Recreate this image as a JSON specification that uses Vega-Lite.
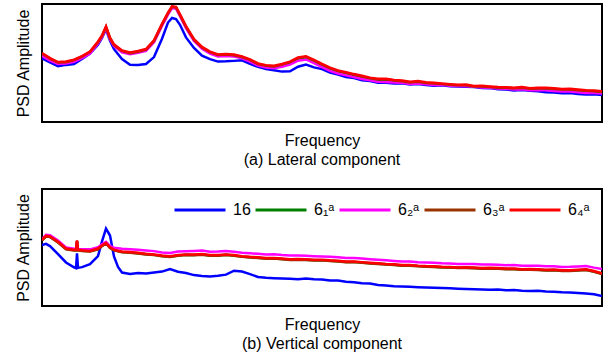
{
  "$schema": "https://vega.github.io/schema/vega-lite/v6.json",
  "background": "white",
  "padding": {"left": 14, "top": 3, "right": 5, "bottom": 0},
  "config": {
    "font": "Liberation Sans",
    "view": {"stroke": "black", "strokeWidth": 2},
    "axis": {"grid": false, "labels": false, "ticks": false, "domain": false, "titleFont": "Liberation Sans", "titleFontSize": 16, "titleFontWeight": "normal", "titleColor": "black"},
    "title": {"font": "Liberation Sans", "fontSize": 16, "fontWeight": "normal", "color": "black"},
    "concat": {"spacing": 13}
  },
  "resolve": {"legend": {"color": "independent"}},
  "vconcat": [
    {
      "title": {"text": "(a) Lateral component", "orient": "bottom", "offset": 4},
      "width": 560,
      "height": 118,
      "data": {"values": [
        {"f": 0, "16": 54.0, "6₁ᵃ": 57.8, "6₂ᵃ": 56.0, "6₃ᵃ": 58.1, "6₄ᵃ": 58.5},
        {"f": 8, "16": 50.6, "6₁ᵃ": 53.2, "6₂ᵃ": 52.0, "6₃ᵃ": 53.7, "6₄ᵃ": 54.2},
        {"f": 16, "16": 47.3, "6₁ᵃ": 50.0, "6₂ᵃ": 49.1, "6₃ᵃ": 50.4, "6₄ᵃ": 50.8},
        {"f": 24, "16": 48.4, "6₁ᵃ": 50.2, "6₂ᵃ": 49.6, "6₃ᵃ": 50.7, "6₄ᵃ": 51.3},
        {"f": 32, "16": 49.2, "6₁ᵃ": 52.1, "6₂ᵃ": 51.0, "6₃ᵃ": 52.4, "6₄ᵃ": 52.8},
        {"f": 40, "16": 53.4, "6₁ᵃ": 55.0, "6₂ᵃ": 54.2, "6₃ᵃ": 55.3, "6₄ᵃ": 55.9},
        {"f": 48, "16": 58.1, "6₁ᵃ": 58.9, "6₂ᵃ": 58.0, "6₃ᵃ": 59.4, "6₄ᵃ": 59.7},
        {"f": 56, "16": 65.4, "6₁ᵃ": 67.3, "6₂ᵃ": 66.5, "6₃ᵃ": 67.6, "6₄ᵃ": 68.2},
        {"f": 60, "16": 71.2, "6₁ᵃ": 72.6, "6₂ᵃ": 71.8, "6₃ᵃ": 72.9, "6₄ᵃ": 73.4},
        {"f": 64, "16": 78.6, "6₁ᵃ": 80.2, "6₂ᵃ": 79.4, "6₃ᵃ": 80.6, "6₄ᵃ": 81.0},
        {"f": 68, "16": 68.9, "6₁ᵃ": 70.6, "6₂ᵃ": 70.0, "6₃ᵃ": 71.0, "6₄ᵃ": 71.4},
        {"f": 72, "16": 61.7, "6₁ᵃ": 64.9, "6₂ᵃ": 64.2, "6₃ᵃ": 65.2, "6₄ᵃ": 65.8},
        {"f": 80, "16": 53.4, "6₁ᵃ": 59.8, "6₂ᵃ": 59.1, "6₃ᵃ": 60.2, "6₄ᵃ": 60.6},
        {"f": 88, "16": 48.6, "6₁ᵃ": 58.0, "6₂ᵃ": 57.4, "6₃ᵃ": 58.2, "6₄ᵃ": 58.9},
        {"f": 96, "16": 48.3, "6₁ᵃ": 59.2, "6₂ᵃ": 58.6, "6₃ᵃ": 59.6, "6₄ᵃ": 60.1},
        {"f": 104, "16": 49.2, "6₁ᵃ": 61.0, "6₂ᵃ": 60.2, "6₃ᵃ": 61.3, "6₄ᵃ": 61.8},
        {"f": 112, "16": 55.0, "6₁ᵃ": 68.4, "6₂ᵃ": 67.5, "6₃ᵃ": 68.7, "6₄ᵃ": 69.3},
        {"f": 120, "16": 70.6, "6₁ᵃ": 82.2, "6₂ᵃ": 81.4, "6₃ᵃ": 82.6, "6₄ᵃ": 83.1},
        {"f": 126, "16": 84.3, "6₁ᵃ": 91.8, "6₂ᵃ": 91.0, "6₃ᵃ": 92.2, "6₄ᵃ": 92.6},
        {"f": 130, "16": 88.2, "6₁ᵃ": 97.2, "6₂ᵃ": 96.5, "6₃ᵃ": 97.6, "6₄ᵃ": 98.0},
        {"f": 134, "16": 87.3, "6₁ᵃ": 96.8, "6₂ᵃ": 96.0, "6₃ᵃ": 97.1, "6₄ᵃ": 97.6},
        {"f": 138, "16": 82.4, "6₁ᵃ": 90.3, "6₂ᵃ": 89.6, "6₃ᵃ": 90.7, "6₄ᵃ": 91.2},
        {"f": 144, "16": 71.7, "6₁ᵃ": 80.4, "6₂ᵃ": 79.6, "6₃ᵃ": 80.7, "6₄ᵃ": 81.3},
        {"f": 152, "16": 62.8, "6₁ᵃ": 69.3, "6₂ᵃ": 68.6, "6₃ᵃ": 69.7, "6₄ᵃ": 70.2},
        {"f": 160, "16": 56.2, "6₁ᵃ": 62.9, "6₂ᵃ": 62.0, "6₃ᵃ": 63.1, "6₄ᵃ": 63.6},
        {"f": 168, "16": 53.3, "6₁ᵃ": 58.8, "6₂ᵃ": 58.0, "6₃ᵃ": 59.2, "6₄ᵃ": 59.7},
        {"f": 176, "16": 51.2, "6₁ᵃ": 56.4, "6₂ᵃ": 55.6, "6₃ᵃ": 56.8, "6₄ᵃ": 57.3},
        {"f": 184, "16": 51.4, "6₁ᵃ": 56.9, "6₂ᵃ": 56.0, "6₃ᵃ": 57.1, "6₄ᵃ": 57.6},
        {"f": 192, "16": 51.8, "6₁ᵃ": 56.2, "6₂ᵃ": 55.4, "6₃ᵃ": 56.6, "6₄ᵃ": 57.2},
        {"f": 200, "16": 52.3, "6₁ᵃ": 54.9, "6₂ᵃ": 54.0, "6₃ᵃ": 55.1, "6₄ᵃ": 55.6},
        {"f": 208, "16": 49.2, "6₁ᵃ": 52.3, "6₂ᵃ": 51.2, "6₃ᵃ": 52.6, "6₄ᵃ": 53.1},
        {"f": 216, "16": 46.7, "6₁ᵃ": 48.8, "6₂ᵃ": 47.8, "6₃ᵃ": 49.1, "6₄ᵃ": 49.6},
        {"f": 224, "16": 44.8, "6₁ᵃ": 47.4, "6₂ᵃ": 46.2, "6₃ᵃ": 47.6, "6₄ᵃ": 48.2},
        {"f": 232, "16": 43.9, "6₁ᵃ": 46.8, "6₂ᵃ": 45.5, "6₃ᵃ": 47.1, "6₄ᵃ": 47.6},
        {"f": 240, "16": 42.7, "6₁ᵃ": 48.3, "6₂ᵃ": 46.8, "6₃ᵃ": 48.6, "6₄ᵃ": 49.1},
        {"f": 248, "16": 42.9, "6₁ᵃ": 50.4, "6₂ᵃ": 48.6, "6₃ᵃ": 50.7, "6₄ᵃ": 51.2},
        {"f": 256, "16": 46.8, "6₁ᵃ": 53.8, "6₂ᵃ": 52.0, "6₃ᵃ": 54.1, "6₄ᵃ": 54.6},
        {"f": 264, "16": 48.7, "6₁ᵃ": 54.9, "6₂ᵃ": 53.0, "6₃ᵃ": 55.2, "6₄ᵃ": 55.7},
        {"f": 272, "16": 46.3, "6₁ᵃ": 51.9, "6₂ᵃ": 49.9, "6₃ᵃ": 52.1, "6₄ᵃ": 52.6},
        {"f": 280, "16": 44.8, "6₁ᵃ": 48.4, "6₂ᵃ": 46.6, "6₃ᵃ": 48.7, "6₄ᵃ": 49.2},
        {"f": 288, "16": 41.8, "6₁ᵃ": 45.3, "6₂ᵃ": 43.3, "6₃ᵃ": 45.6, "6₄ᵃ": 46.1},
        {"f": 296, "16": 40.3, "6₁ᵃ": 42.9, "6₂ᵃ": 41.1, "6₃ᵃ": 43.1, "6₄ᵃ": 43.7},
        {"f": 304, "16": 38.2, "6₁ᵃ": 41.4, "6₂ᵃ": 39.5, "6₃ᵃ": 41.7, "6₄ᵃ": 42.2},
        {"f": 312, "16": 37.3, "6₁ᵃ": 39.8, "6₂ᵃ": 38.2, "6₃ᵃ": 40.1, "6₄ᵃ": 40.6},
        {"f": 320, "16": 35.4, "6₁ᵃ": 38.4, "6₂ᵃ": 36.4, "6₃ᵃ": 38.6, "6₄ᵃ": 39.2},
        {"f": 328, "16": 34.7, "6₁ᵃ": 36.9, "6₂ᵃ": 35.3, "6₃ᵃ": 37.1, "6₄ᵃ": 37.6},
        {"f": 336, "16": 33.3, "6₁ᵃ": 35.8, "6₂ᵃ": 34.2, "6₃ᵃ": 36.1, "6₄ᵃ": 36.6},
        {"f": 344, "16": 33.2, "6₁ᵃ": 35.9, "6₂ᵃ": 34.0, "6₃ᵃ": 36.2, "6₄ᵃ": 36.7},
        {"f": 352, "16": 32.7, "6₁ᵃ": 34.8, "6₂ᵃ": 33.5, "6₃ᵃ": 35.1, "6₄ᵃ": 35.6},
        {"f": 360, "16": 32.8, "6₁ᵃ": 34.4, "6₂ᵃ": 33.2, "6₃ᵃ": 34.6, "6₄ᵃ": 35.1},
        {"f": 368, "16": 31.7, "6₁ᵃ": 33.3, "6₂ᵃ": 32.3, "6₃ᵃ": 33.5, "6₄ᵃ": 34.1},
        {"f": 376, "16": 32.2, "6₁ᵃ": 33.9, "6₂ᵃ": 32.6, "6₃ᵃ": 34.1, "6₄ᵃ": 34.7},
        {"f": 384, "16": 31.3, "6₁ᵃ": 32.8, "6₂ᵃ": 31.9, "6₃ᵃ": 33.1, "6₄ᵃ": 33.6},
        {"f": 392, "16": 30.8, "6₁ᵃ": 32.4, "6₂ᵃ": 31.4, "6₃ᵃ": 32.6, "6₄ᵃ": 33.2},
        {"f": 400, "16": 31.2, "6₁ᵃ": 31.8, "6₂ᵃ": 31.6, "6₃ᵃ": 32.1, "6₄ᵃ": 32.6},
        {"f": 408, "16": 30.3, "6₁ᵃ": 31.4, "6₂ᵃ": 30.8, "6₃ᵃ": 31.6, "6₄ᵃ": 32.1},
        {"f": 416, "16": 30.1, "6₁ᵃ": 30.8, "6₂ᵃ": 30.5, "6₃ᵃ": 31.1, "6₄ᵃ": 31.6},
        {"f": 424, "16": 29.8, "6₁ᵃ": 30.9, "6₂ᵃ": 30.2, "6₃ᵃ": 31.1, "6₄ᵃ": 31.7},
        {"f": 432, "16": 29.6, "6₁ᵃ": 29.8, "6₂ᵃ": 29.9, "6₃ᵃ": 30.1, "6₄ᵃ": 30.6},
        {"f": 440, "16": 28.8, "6₁ᵃ": 29.9, "6₂ᵃ": 29.3, "6₃ᵃ": 30.1, "6₄ᵃ": 30.7},
        {"f": 448, "16": 28.7, "6₁ᵃ": 29.3, "6₂ᵃ": 29.0, "6₃ᵃ": 29.6, "6₄ᵃ": 30.1},
        {"f": 456, "16": 27.8, "6₁ᵃ": 28.9, "6₂ᵃ": 28.4, "6₃ᵃ": 29.1, "6₄ᵃ": 29.6},
        {"f": 464, "16": 27.6, "6₁ᵃ": 28.8, "6₂ᵃ": 28.1, "6₃ᵃ": 29.0, "6₄ᵃ": 29.5},
        {"f": 472, "16": 26.8, "6₁ᵃ": 28.3, "6₂ᵃ": 27.5, "6₃ᵃ": 28.5, "6₄ᵃ": 29.0},
        {"f": 480, "16": 27.1, "6₁ᵃ": 28.8, "6₂ᵃ": 27.8, "6₃ᵃ": 29.0, "6₄ᵃ": 29.6},
        {"f": 488, "16": 26.4, "6₁ᵃ": 27.8, "6₂ᵃ": 27.0, "6₃ᵃ": 28.1, "6₄ᵃ": 28.6},
        {"f": 496, "16": 26.1, "6₁ᵃ": 28.2, "6₂ᵃ": 27.2, "6₃ᵃ": 28.4, "6₄ᵃ": 29.0},
        {"f": 504, "16": 25.3, "6₁ᵃ": 28.3, "6₂ᵃ": 26.8, "6₃ᵃ": 28.5, "6₄ᵃ": 29.1},
        {"f": 512, "16": 25.1, "6₁ᵃ": 27.7, "6₂ᵃ": 26.3, "6₃ᵃ": 28.0, "6₄ᵃ": 28.5},
        {"f": 520, "16": 24.4, "6₁ᵃ": 27.3, "6₂ᵃ": 25.9, "6₃ᵃ": 27.5, "6₄ᵃ": 28.0},
        {"f": 528, "16": 24.6, "6₁ᵃ": 27.2, "6₂ᵃ": 25.8, "6₃ᵃ": 27.5, "6₄ᵃ": 28.1},
        {"f": 536, "16": 23.8, "6₁ᵃ": 26.8, "6₂ᵃ": 25.2, "6₃ᵃ": 27.0, "6₄ᵃ": 27.6},
        {"f": 544, "16": 23.4, "6₁ᵃ": 26.2, "6₂ᵃ": 24.6, "6₃ᵃ": 26.5, "6₄ᵃ": 27.0},
        {"f": 552, "16": 23.6, "6₁ᵃ": 25.8, "6₂ᵃ": 24.5, "6₃ᵃ": 26.0, "6₄ᵃ": 26.6},
        {"f": 560, "16": 22.9, "6₁ᵃ": 25.3, "6₂ᵃ": 24.1, "6₃ᵃ": 25.5, "6₄ᵃ": 26.0}
      ]},
      "transform": [{"fold": ["16", "6₁ᵃ", "6₂ᵃ", "6₃ᵃ", "6₄ᵃ"], "as": ["series", "v"]}],
      "mark": {"type": "line", "strokeWidth": 2.5, "clip": true},
      "encoding": {
        "x": {"field": "f", "type": "quantitative", "scale": {"domain": [0, 560], "nice": false, "zero": false}, "axis": {"title": "Frequency", "titlePadding": 10}},
        "y": {"field": "v", "type": "quantitative", "scale": {"domain": [0, 100], "nice": false}, "axis": {"title": "PSD Amplitude", "titlePadding": 11}},
        "color": {"field": "series", "type": "nominal", "scale": {"domain": ["16", "6₁ᵃ", "6₂ᵃ", "6₃ᵃ", "6₄ᵃ"], "range": ["#0000ff", "#008000", "#ff00ff", "#993300", "#ff0000"]}, "legend": null}
      }
    },
    {
      "title": {"text": "(b) Vertical component", "orient": "bottom", "offset": 4},
      "width": 560,
      "height": 117,
      "data": {"values": [
        {"f": 0, "16": 52.0, "6₁ᵃ": 56.2, "6₂ᵃ": 57.2, "6₃ᵃ": 56.0, "6₄ᵃ": 56.5},
        {"f": 4, "16": 53.1, "6₁ᵃ": 59.6, "6₂ᵃ": 60.8, "6₃ᵃ": 59.4, "6₄ᵃ": 60.0},
        {"f": 8, "16": 51.2, "6₁ᵃ": 59.1, "6₂ᵃ": 60.4, "6₃ᵃ": 58.9, "6₄ᵃ": 59.5},
        {"f": 16, "16": 44.4, "6₁ᵃ": 54.6, "6₂ᵃ": 55.9, "6₃ᵃ": 54.3, "6₄ᵃ": 55.0},
        {"f": 24, "16": 37.2, "6₁ᵃ": 48.8, "6₂ᵃ": 50.1, "6₃ᵃ": 48.5, "6₄ᵃ": 49.1},
        {"f": 32, "16": 33.1, "6₁ᵃ": 47.6, "6₂ᵃ": 49.0, "6₃ᵃ": 47.4, "6₄ᵃ": 48.0},
        {"f": 34, "16": 32.4, "6₁ᵃ": 47.8, "6₂ᵃ": 48.9, "6₃ᵃ": 47.5, "6₄ᵃ": 48.1},
        {"f": 35, "16": 45.0, "6₁ᵃ": 55.4, "6₂ᵃ": 54.8, "6₃ᵃ": 55.6, "6₄ᵃ": 56.0},
        {"f": 36, "16": 32.6, "6₁ᵃ": 47.7, "6₂ᵃ": 48.8, "6₃ᵃ": 47.6, "6₄ᵃ": 48.0},
        {"f": 40, "16": 33.2, "6₁ᵃ": 47.2, "6₂ᵃ": 48.6, "6₃ᵃ": 47.0, "6₄ᵃ": 47.6},
        {"f": 48, "16": 35.7, "6₁ᵃ": 46.8, "6₂ᵃ": 48.4, "6₃ᵃ": 46.6, "6₄ᵃ": 47.1},
        {"f": 56, "16": 42.6, "6₁ᵃ": 48.7, "6₂ᵃ": 50.3, "6₃ᵃ": 48.5, "6₄ᵃ": 49.1},
        {"f": 60, "16": 55.2, "6₁ᵃ": 51.4, "6₂ᵃ": 52.8, "6₃ᵃ": 51.2, "6₄ᵃ": 51.8},
        {"f": 64, "16": 66.1, "6₁ᵃ": 53.6, "6₂ᵃ": 54.9, "6₃ᵃ": 53.4, "6₄ᵃ": 54.0},
        {"f": 68, "16": 60.2, "6₁ᵃ": 49.7, "6₂ᵃ": 51.4, "6₃ᵃ": 49.5, "6₄ᵃ": 50.1},
        {"f": 72, "16": 42.3, "6₁ᵃ": 47.8, "6₂ᵃ": 49.9, "6₃ᵃ": 47.5, "6₄ᵃ": 48.2},
        {"f": 76, "16": 33.4, "6₁ᵃ": 47.0, "6₂ᵃ": 49.4, "6₃ᵃ": 46.8, "6₄ᵃ": 47.3},
        {"f": 80, "16": 28.6, "6₁ᵃ": 46.2, "6₂ᵃ": 48.9, "6₃ᵃ": 46.0, "6₄ᵃ": 46.6},
        {"f": 88, "16": 27.4, "6₁ᵃ": 45.8, "6₂ᵃ": 48.6, "6₃ᵃ": 45.6, "6₄ᵃ": 46.1},
        {"f": 96, "16": 28.3, "6₁ᵃ": 45.1, "6₂ᵃ": 48.0, "6₃ᵃ": 44.9, "6₄ᵃ": 45.5},
        {"f": 104, "16": 27.8, "6₁ᵃ": 44.2, "6₂ᵃ": 47.4, "6₃ᵃ": 44.0, "6₄ᵃ": 44.6},
        {"f": 112, "16": 28.6, "6₁ᵃ": 43.7, "6₂ᵃ": 46.9, "6₃ᵃ": 43.5, "6₄ᵃ": 44.1},
        {"f": 120, "16": 29.4, "6₁ᵃ": 42.8, "6₂ᵃ": 45.8, "6₃ᵃ": 42.5, "6₄ᵃ": 43.1},
        {"f": 128, "16": 31.6, "6₁ᵃ": 42.1, "6₂ᵃ": 45.4, "6₃ᵃ": 41.9, "6₄ᵃ": 42.5},
        {"f": 136, "16": 29.3, "6₁ᵃ": 43.2, "6₂ᵃ": 46.5, "6₃ᵃ": 43.0, "6₄ᵃ": 43.6},
        {"f": 144, "16": 28.2, "6₁ᵃ": 43.7, "6₂ᵃ": 46.8, "6₃ᵃ": 43.5, "6₄ᵃ": 44.1},
        {"f": 152, "16": 26.4, "6₁ᵃ": 43.6, "6₂ᵃ": 47.1, "6₃ᵃ": 43.4, "6₄ᵃ": 44.0},
        {"f": 160, "16": 25.7, "6₁ᵃ": 44.1, "6₂ᵃ": 47.4, "6₃ᵃ": 43.9, "6₄ᵃ": 44.5},
        {"f": 168, "16": 25.3, "6₁ᵃ": 43.2, "6₂ᵃ": 46.4, "6₃ᵃ": 43.0, "6₄ᵃ": 43.6},
        {"f": 176, "16": 25.8, "6₁ᵃ": 43.1, "6₂ᵃ": 46.6, "6₃ᵃ": 42.9, "6₄ᵃ": 43.5},
        {"f": 184, "16": 26.8, "6₁ᵃ": 43.7, "6₂ᵃ": 47.0, "6₃ᵃ": 43.5, "6₄ᵃ": 44.1},
        {"f": 192, "16": 30.2, "6₁ᵃ": 43.1, "6₂ᵃ": 46.3, "6₃ᵃ": 42.9, "6₄ᵃ": 43.5},
        {"f": 200, "16": 29.4, "6₁ᵃ": 42.2, "6₂ᵃ": 45.6, "6₃ᵃ": 42.0, "6₄ᵃ": 42.6},
        {"f": 208, "16": 27.2, "6₁ᵃ": 41.6, "6₂ᵃ": 45.1, "6₃ᵃ": 41.4, "6₄ᵃ": 42.0},
        {"f": 216, "16": 24.8, "6₁ᵃ": 41.2, "6₂ᵃ": 44.6, "6₃ᵃ": 41.0, "6₄ᵃ": 41.6},
        {"f": 224, "16": 24.1, "6₁ᵃ": 40.6, "6₂ᵃ": 44.0, "6₃ᵃ": 40.4, "6₄ᵃ": 41.0},
        {"f": 232, "16": 23.8, "6₁ᵃ": 40.7, "6₂ᵃ": 44.2, "6₃ᵃ": 40.5, "6₄ᵃ": 41.1},
        {"f": 240, "16": 23.6, "6₁ᵃ": 40.1, "6₂ᵃ": 43.5, "6₃ᵃ": 39.9, "6₄ᵃ": 40.5},
        {"f": 248, "16": 23.3, "6₁ᵃ": 39.6, "6₂ᵃ": 43.1, "6₃ᵃ": 39.4, "6₄ᵃ": 40.0},
        {"f": 256, "16": 22.8, "6₁ᵃ": 39.7, "6₂ᵃ": 43.2, "6₃ᵃ": 39.5, "6₄ᵃ": 40.1},
        {"f": 264, "16": 23.6, "6₁ᵃ": 39.5, "6₂ᵃ": 42.9, "6₃ᵃ": 39.3, "6₄ᵃ": 39.9},
        {"f": 272, "16": 22.9, "6₁ᵃ": 39.1, "6₂ᵃ": 42.6, "6₃ᵃ": 38.9, "6₄ᵃ": 39.5},
        {"f": 280, "16": 22.6, "6₁ᵃ": 39.2, "6₂ᵃ": 42.4, "6₃ᵃ": 39.0, "6₄ᵃ": 39.6},
        {"f": 288, "16": 21.8, "6₁ᵃ": 38.6, "6₂ᵃ": 42.0, "6₃ᵃ": 38.4, "6₄ᵃ": 39.0},
        {"f": 296, "16": 21.7, "6₁ᵃ": 38.2, "6₂ᵃ": 41.6, "6₃ᵃ": 38.0, "6₄ᵃ": 38.6},
        {"f": 304, "16": 20.8, "6₁ᵃ": 37.6, "6₂ᵃ": 41.0, "6₃ᵃ": 37.4, "6₄ᵃ": 38.0},
        {"f": 312, "16": 20.2, "6₁ᵃ": 37.7, "6₂ᵃ": 41.1, "6₃ᵃ": 37.5, "6₄ᵃ": 38.1},
        {"f": 320, "16": 19.4, "6₁ᵃ": 37.1, "6₂ᵃ": 40.5, "6₃ᵃ": 36.9, "6₄ᵃ": 37.5},
        {"f": 328, "16": 19.2, "6₁ᵃ": 36.6, "6₂ᵃ": 40.0, "6₃ᵃ": 36.4, "6₄ᵃ": 37.0},
        {"f": 336, "16": 17.9, "6₁ᵃ": 36.2, "6₂ᵃ": 39.6, "6₃ᵃ": 36.0, "6₄ᵃ": 36.6},
        {"f": 344, "16": 17.6, "6₁ᵃ": 35.6, "6₂ᵃ": 39.1, "6₃ᵃ": 35.4, "6₄ᵃ": 36.0},
        {"f": 352, "16": 16.8, "6₁ᵃ": 35.2, "6₂ᵃ": 38.5, "6₃ᵃ": 35.0, "6₄ᵃ": 35.6},
        {"f": 360, "16": 16.6, "6₁ᵃ": 34.6, "6₂ᵃ": 38.0, "6₃ᵃ": 34.4, "6₄ᵃ": 35.0},
        {"f": 368, "16": 16.4, "6₁ᵃ": 34.7, "6₂ᵃ": 38.1, "6₃ᵃ": 34.5, "6₄ᵃ": 35.1},
        {"f": 376, "16": 16.1, "6₁ᵃ": 34.1, "6₂ᵃ": 37.4, "6₃ᵃ": 33.9, "6₄ᵃ": 34.5},
        {"f": 384, "16": 15.8, "6₁ᵃ": 33.7, "6₂ᵃ": 37.1, "6₃ᵃ": 33.5, "6₄ᵃ": 34.1},
        {"f": 392, "16": 15.6, "6₁ᵃ": 33.6, "6₂ᵃ": 36.9, "6₃ᵃ": 33.4, "6₄ᵃ": 34.0},
        {"f": 400, "16": 15.4, "6₁ᵃ": 33.2, "6₂ᵃ": 36.5, "6₃ᵃ": 33.0, "6₄ᵃ": 33.6},
        {"f": 408, "16": 15.1, "6₁ᵃ": 33.0, "6₂ᵃ": 36.4, "6₃ᵃ": 32.8, "6₄ᵃ": 33.4},
        {"f": 416, "16": 14.8, "6₁ᵃ": 32.6, "6₂ᵃ": 36.0, "6₃ᵃ": 32.4, "6₄ᵃ": 33.0},
        {"f": 424, "16": 14.6, "6₁ᵃ": 32.7, "6₂ᵃ": 36.0, "6₃ᵃ": 32.5, "6₄ᵃ": 33.1},
        {"f": 432, "16": 14.4, "6₁ᵃ": 32.5, "6₂ᵃ": 35.8, "6₃ᵃ": 32.3, "6₄ᵃ": 32.9},
        {"f": 440, "16": 14.2, "6₁ᵃ": 32.1, "6₂ᵃ": 35.4, "6₃ᵃ": 31.9, "6₄ᵃ": 32.5},
        {"f": 448, "16": 13.9, "6₁ᵃ": 32.2, "6₂ᵃ": 35.5, "6₃ᵃ": 32.0, "6₄ᵃ": 32.6},
        {"f": 456, "16": 14.1, "6₁ᵃ": 32.0, "6₂ᵃ": 35.2, "6₃ᵃ": 31.8, "6₄ᵃ": 32.4},
        {"f": 464, "16": 13.5, "6₁ᵃ": 31.6, "6₂ᵃ": 34.9, "6₃ᵃ": 31.4, "6₄ᵃ": 32.0},
        {"f": 472, "16": 13.6, "6₁ᵃ": 31.7, "6₂ᵃ": 35.0, "6₃ᵃ": 31.5, "6₄ᵃ": 32.1},
        {"f": 480, "16": 13.1, "6₁ᵃ": 31.1, "6₂ᵃ": 34.5, "6₃ᵃ": 30.9, "6₄ᵃ": 31.5},
        {"f": 488, "16": 12.9, "6₁ᵃ": 31.2, "6₂ᵃ": 34.4, "6₃ᵃ": 31.0, "6₄ᵃ": 31.6},
        {"f": 496, "16": 13.1, "6₁ᵃ": 31.0, "6₂ᵃ": 34.3, "6₃ᵃ": 30.8, "6₄ᵃ": 31.4},
        {"f": 504, "16": 12.4, "6₁ᵃ": 30.6, "6₂ᵃ": 33.9, "6₃ᵃ": 30.4, "6₄ᵃ": 31.0},
        {"f": 512, "16": 12.2, "6₁ᵃ": 30.7, "6₂ᵃ": 33.9, "6₃ᵃ": 30.5, "6₄ᵃ": 31.1},
        {"f": 520, "16": 11.8, "6₁ᵃ": 30.1, "6₂ᵃ": 33.4, "6₃ᵃ": 29.9, "6₄ᵃ": 30.5},
        {"f": 528, "16": 11.6, "6₁ᵃ": 30.2, "6₂ᵃ": 33.5, "6₃ᵃ": 30.0, "6₄ᵃ": 30.6},
        {"f": 536, "16": 11.1, "6₁ᵃ": 30.6, "6₂ᵃ": 33.8, "6₃ᵃ": 30.4, "6₄ᵃ": 31.0},
        {"f": 544, "16": 10.6, "6₁ᵃ": 31.0, "6₂ᵃ": 34.2, "6₃ᵃ": 30.8, "6₄ᵃ": 31.4},
        {"f": 552, "16": 10.1, "6₁ᵃ": 29.5, "6₂ᵃ": 32.8, "6₃ᵃ": 29.3, "6₄ᵃ": 29.9},
        {"f": 560, "16": 8.6, "6₁ᵃ": 27.6, "6₂ᵃ": 31.6, "6₃ᵃ": 27.4, "6₄ᵃ": 28.0}
      ]},
      "transform": [{"fold": ["16", "6₁ᵃ", "6₂ᵃ", "6₃ᵃ", "6₄ᵃ"], "as": ["series", "v"]}],
      "mark": {"type": "line", "strokeWidth": 2.5, "clip": true},
      "encoding": {
        "x": {"field": "f", "type": "quantitative", "scale": {"domain": [0, 560], "nice": false, "zero": false}, "axis": {"title": "Frequency", "titlePadding": 10}},
        "y": {"field": "v", "type": "quantitative", "scale": {"domain": [0, 100], "nice": false}, "axis": {"title": "PSD Amplitude", "titlePadding": 11}},
        "color": {
          "field": "series",
          "type": "nominal",
          "scale": {"domain": ["16", "6₁ᵃ", "6₂ᵃ", "6₃ᵃ", "6₄ᵃ"], "range": ["#0000ff", "#008000", "#ff00ff", "#993300", "#ff0000"]},
          "legend": {"title": null, "orient": "none", "legendX": 131, "legendY": -6, "direction": "horizontal", "padding": 0, "symbolType": "stroke", "symbolSize": 2600, "symbolStrokeWidth": 3, "labelFont": "Liberation Sans", "labelFontSize": 16, "labelColor": "black", "labelOffset": 6, "columnPadding": -2}
        }
      }
    }
  ]
}
